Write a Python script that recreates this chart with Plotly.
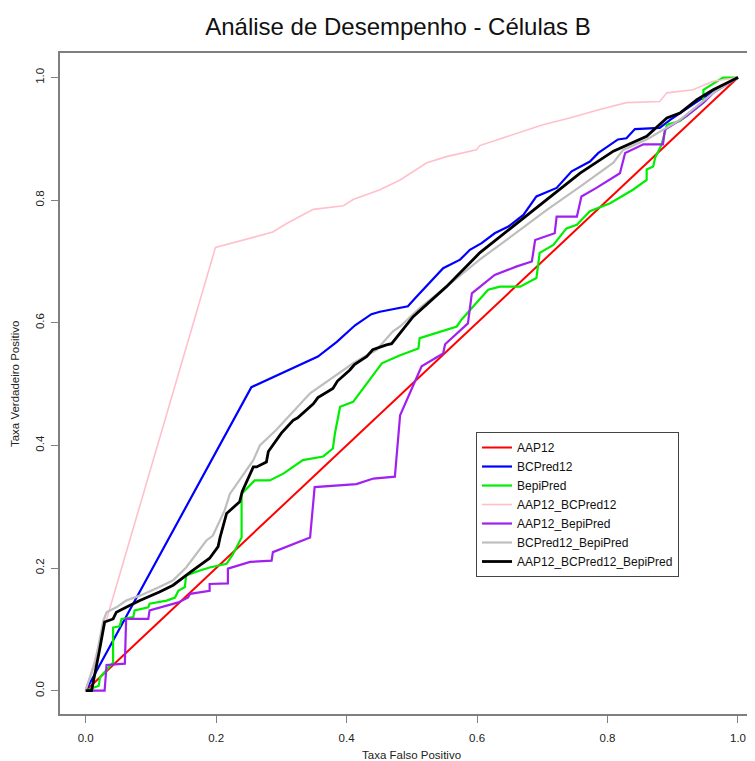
import plotly.graph_objects as go

# ---------------- data ----------------
series_names = ["AAP12", "BCPred12", "BepiPred", "AAP12_BCPred12",
                "AAP12_BepiPred", "BCPred12_BepiPred", "AAP12_BCPred12_BepiPred"]
series_colors = ["#FF0000", "#0000FF", "#00EE00", "#FFC0CB",
                 "#A020F0", "#BEBEBE", "#000000"]
series_widths = [2, 2.2, 2.2, 1.6, 2.2, 2.2, 2.8]

aap12_x = [0.0, 1.0]
aap12_y = [0.0, 1.0]

bcpred12_x = [0, 0.254, 0.356, 0.385, 0.413, 0.438, 0.451, 0.494, 0.505, 0.548, 0.574, 0.589,
              0.607, 0.627, 0.648, 0.671, 0.691, 0.722, 0.745, 0.773, 0.786, 0.816, 0.829,
              0.842, 0.880, 0.896, 0.942, 1.0]
bcpred12_y = [0, 0.495, 0.545, 0.569, 0.596, 0.614, 0.618, 0.627, 0.640, 0.689, 0.703, 0.719,
              0.730, 0.746, 0.757, 0.776, 0.806, 0.820, 0.847, 0.863, 0.877, 0.899, 0.901,
              0.916, 0.918, 0.931, 0.964, 1.0]

bepipred_x = [0, 0.020, 0.022, 0.042, 0.042, 0.052, 0.055, 0.073, 0.075, 0.096, 0.098, 0.124,
              0.137, 0.142, 0.152, 0.154, 0.175, 0.190, 0.216, 0.226, 0.239, 0.239, 0.259,
              0.282, 0.303, 0.333, 0.364, 0.379, 0.382, 0.390, 0.410, 0.454, 0.482, 0.510,
              0.512, 0.569, 0.576, 0.617, 0.635, 0.666, 0.691, 0.696, 0.717, 0.737, 0.753,
              0.773, 0.804, 0.839, 0.860, 0.860, 0.870, 0.873, 0.883, 0.891, 0.911, 0.926,
              0.947, 0.947, 0.977, 1.0]
bepipred_y = [0, 0.008, 0.022, 0.046, 0.103, 0.105, 0.117, 0.120, 0.131, 0.136, 0.142, 0.147,
              0.152, 0.163, 0.169, 0.188, 0.196, 0.201, 0.207, 0.223, 0.250, 0.321, 0.343,
              0.343, 0.354, 0.376, 0.382, 0.395, 0.419, 0.463, 0.471, 0.534, 0.547, 0.558,
              0.575, 0.594, 0.605, 0.654, 0.659, 0.659, 0.673, 0.714, 0.727, 0.754, 0.760,
              0.782, 0.795, 0.817, 0.833, 0.850, 0.855, 0.869, 0.891, 0.923, 0.929, 0.942,
              0.959, 0.980, 1.0, 1.0]

aap12_bcpred12_x = [0, 0.199, 0.287, 0.308, 0.349, 0.395, 0.410, 0.451, 0.482, 0.523, 0.553,
                    0.599, 0.604, 0.666, 0.701, 0.742, 0.788, 0.829, 0.880, 0.891, 0.931,
                    0.962, 1.0]
aap12_bcpred12_y = [0, 0.723, 0.748, 0.762, 0.785, 0.791, 0.801, 0.817, 0.833, 0.861, 0.871,
                    0.882, 0.889, 0.910, 0.923, 0.934, 0.948, 0.959, 0.961, 0.975, 0.980,
                    0.994, 1.0]

aap12_bepipred_x = [0, 0.029, 0.032, 0.060, 0.062, 0.096, 0.098, 0.142, 0.157, 0.160, 0.190,
                    0.190, 0.218, 0.218, 0.252, 0.285, 0.287, 0.344, 0.351, 0.415, 0.441,
                    0.474, 0.482, 0.515, 0.548, 0.551, 0.586, 0.592, 0.627, 0.661, 0.684,
                    0.689, 0.719, 0.722, 0.753, 0.760, 0.783, 0.819, 0.827, 0.855, 0.885,
                    0.888, 0.921, 0.949, 0.962, 1.0]
aap12_bepipred_y = [0, 0, 0.042, 0.044, 0.117, 0.117, 0.131, 0.144, 0.152, 0.158, 0.163,
                    0.174, 0.175, 0.199, 0.210, 0.212, 0.226, 0.250, 0.332, 0.337, 0.346,
                    0.349, 0.449, 0.529, 0.550, 0.565, 0.599, 0.648, 0.678, 0.692, 0.700,
                    0.735, 0.746, 0.773, 0.773, 0.806, 0.820, 0.844, 0.877, 0.891, 0.891,
                    0.915, 0.937, 0.961, 0.975, 1.0]

bcpred12_bepipred_x = [0, 0.001, 0.014, 0.027, 0.032, 0.047, 0.062, 0.083, 0.113, 0.134,
                       0.154, 0.175, 0.185, 0.195, 0.213, 0.221, 0.257, 0.267, 0.292, 0.344,
                       0.369, 0.410, 0.446, 0.471, 0.482, 0.512, 0.553, 0.604, 0.655, 0.707,
                       0.758, 0.809, 0.824, 0.860, 0.911, 0.962, 1.0]
bcpred12_bepipred_y = [0, 0.005, 0.044, 0.114, 0.128, 0.136, 0.147, 0.155, 0.169, 0.180,
                       0.201, 0.232, 0.245, 0.253, 0.294, 0.321, 0.376, 0.400, 0.425, 0.485,
                       0.504, 0.534, 0.556, 0.586, 0.594, 0.624, 0.659, 0.703, 0.743, 0.784,
                       0.822, 0.861, 0.882, 0.899, 0.931, 0.975, 1.0]

all3_x = [0, 0.009, 0.021, 0.027, 0.029, 0.042, 0.047, 0.062, 0.083, 0.113, 0.134, 0.160,
          0.175, 0.190, 0.203, 0.206, 0.216, 0.236, 0.240, 0.257, 0.262, 0.277, 0.280, 0.292,
          0.300, 0.318, 0.325, 0.349, 0.356, 0.379, 0.386, 0.405, 0.412, 0.431, 0.440, 0.461,
          0.469, 0.502, 0.553, 0.604, 0.655, 0.707, 0.758, 0.809, 0.860, 0.891, 0.911, 0.937,
          0.962, 1.0]
all3_y = [0, 0, 0.065, 0.106, 0.112, 0.117, 0.128, 0.136, 0.147, 0.161, 0.172, 0.193,
          0.205, 0.216, 0.235, 0.250, 0.289, 0.308, 0.325, 0.365, 0.365, 0.373, 0.390, 0.408,
          0.420, 0.441, 0.445, 0.468, 0.478, 0.493, 0.505, 0.523, 0.532, 0.545, 0.556, 0.564,
          0.566, 0.610, 0.659, 0.714, 0.757, 0.801, 0.844, 0.880, 0.904, 0.934, 0.942, 0.964,
          0.980, 1.0]

series_x = [aap12_x, bcpred12_x, bepipred_x, aap12_bcpred12_x, aap12_bepipred_x,
            bcpred12_bepipred_x, all3_x]
series_y = [aap12_y, bcpred12_y, bepipred_y, aap12_bcpred12_y, aap12_bepipred_y,
            bcpred12_bepipred_y, all3_y]

tick_vals = [0.0, 0.2, 0.4, 0.6, 0.8, 1.0]
tick_text = ["0.0", "0.2", "0.4", "0.6", "0.8", "1.0"]

title_text = "Análise de Desempenho - Células B"
x_title = "Taxa Falso Positivo"
y_title = "Taxa Verdadeiro Positivo"

# ---------------- figure ----------------
# The page body has an 8px margin, so the figure is laid out 8px in from the window edges.
FONT = "Liberation Sans, Arial, Helvetica, sans-serif"
BOX = "#7f7f7f"
W, H = 747, 753

fig = go.Figure()
for name, color, w, xs, ys in zip(series_names, series_colors, series_widths, series_x, series_y):
    fig.add_trace(go.Scatter(x=xs, y=ys, mode="lines", name=name,
                             line=dict(color=color, width=w)))

fig.update_layout(
    width=W, height=H,
    margin=dict(l=52, r=0, t=45, b=47),
    paper_bgcolor="white", plot_bgcolor="white",
    font=dict(family=FONT, size=11.5, color="#222"),
    title=dict(text=title_text, xref="container", x=390 / W, xanchor="center",
               yref="container", y=1 - 19 / H, yanchor="middle",
               font=dict(family=FONT, size=24, color="#111")),
    showlegend=True,
    legend=dict(x=0.5986, xanchor="left", y=0.4266, yanchor="top",
                bgcolor="white", bordercolor="#444", borderwidth=1,
                font=dict(family=FONT, size=12, color="#111"),
                tracegroupgap=0, itemwidth=30),
    xaxis=dict(range=[-0.0394, 1.0261], tickvals=tick_vals, ticktext=tick_text,
               showgrid=False, zeroline=False, showline=True, mirror=True,
               linecolor=BOX, linewidth=1.5, ticks="outside", ticklen=7,
               tickcolor=BOX, tickwidth=1, ticklabelstandoff=5,
               tickfont=dict(family=FONT, size=11.5, color="#222")),
    yaxis=dict(range=[-0.038, 1.040], tickvals=tick_vals, ticktext=tick_text,
               showgrid=False, zeroline=False, showline=True, mirror=False,
               linecolor=BOX, linewidth=1.5, ticks="outside", ticklen=7,
               tickcolor=BOX, tickwidth=1, tickangle=-90, ticklabelstandoff=3,
               tickfont=dict(family=FONT, size=11.5, color="#222")),
)

fig.add_annotation(text=x_title, xref="x", x=0.5, yref="paper", y=0, yshift=-41,
                   yanchor="middle", showarrow=False,
                   font=dict(family=FONT, size=11.5, color="#222"))
fig.add_annotation(text=y_title, xref="paper", x=0, xshift=-45, yref="y", y=0.5,
                   xanchor="center", textangle=-90, showarrow=False,
                   font=dict(family=FONT, size=11.5, color="#222"))

fig.write_html("out.html")
